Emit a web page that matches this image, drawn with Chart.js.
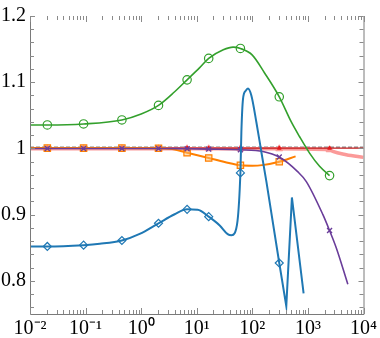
<!DOCTYPE html>
<html>
<head>
<meta charset="utf-8">
<script src="https://cdn.jsdelivr.net/npm/chart.js@4/dist/chart.umd.min.js"></script>
<style>
  html, body { margin: 0; padding: 0; background: #ffffff; }
  #wrap { width: 380px; height: 338px; }
</style>
</head>
<body>
<div id="wrap"><canvas id="c" width="380" height="338"></canvas></div>
<script>
// ---- tick labels ----
const xTickValues = [0.01, 0.1, 1, 10, 100, 1000, 10000];
const xTickLabels = ['10\u207B\u00B2', '10\u207B\u00B9', '10\u2070', '10\u00B9', '10\u00B2', '10\u00B3', '10\u2074'];
const yTickValues = [0.8, 0.9, 1.0, 1.1, 1.2];
const yTickLabels = ['0.8', '0.9', '1', '1.1', '1.2'];

// x positions where markers are drawn
const markX = [0.0205, 0.092, 0.45, 2.05, 6.7, 16.4, 61, 305, 2450];

// ---- series ----
const greenX = [0.01, 0.0205, 0.092, 0.45, 1.0, 2.05, 4.0, 6.7, 11.3, 16.4, 30, 45, 61, 100, 166, 305, 502, 705, 1070, 1620, 2450];
const greenY = [1.0355, 1.0355, 1.037, 1.043, 1.052, 1.065, 1.0856, 1.1036, 1.122, 1.136, 1.149, 1.153, 1.151, 1.141, 1.114, 1.078, 1.040, 1.018, 0.993, 0.973, 0.959];

const blueX = [0.01, 0.0205, 0.092, 0.18, 0.45, 0.94, 2.05, 4.0, 6.7, 10.4, 16.4, 25.9, 36, 42, 48, 61, 63.5, 67.9, 75.9, 83.4, 96, 118, 145, 179, 305, 408, 515, 836];
const blueY = [0.852, 0.852, 0.854, 0.856, 0.861, 0.871, 0.887, 0.9006, 0.908, 0.9076, 0.897, 0.8837, 0.8706, 0.869, 0.872, 0.963, 1.025, 1.0745, 1.087, 1.0906, 1.080, 1.040, 0.995, 0.950, 0.827, 0.762, 0.926, 0.781];
const blueSplit = 22; // index where the curve turns into straight segments

const orangeX = [0.01, 0.0205, 0.092, 0.45, 2.05, 3.3, 6.7, 16.4, 31.8, 61, 100, 150, 305, 600];
const orangeY = [1.0005, 1.0005, 1.0005, 1.0005, 1.0002, 0.9995, 0.9935, 0.9856, 0.9796, 0.9746, 0.974, 0.9748, 0.980, 0.988];

const purpleX = [0.01, 0.0205, 0.092, 0.45, 2.05, 6.7, 16.4, 61, 155, 305, 652, 935, 1860, 2450, 3230, 5220];
const purpleY = [1.0, 1.0, 1.0, 1.0, 1.0, 0.9995, 0.999, 0.998, 0.9955, 0.987, 0.965, 0.95, 0.90, 0.876, 0.850, 0.795];

const pinkX = [0.01, 0.0205, 0.092, 0.45, 2.05, 6.7, 16.4, 61, 305, 2450, 2800, 4890, 10000];
const pinkY = [0.9995, 0.9995, 0.9995, 0.9995, 0.9995, 0.9995, 0.9995, 0.9995, 0.9995, 0.998, 0.9955, 0.9906, 0.9865];

const redX = [0.01, 0.0205, 0.092, 0.45, 2.05, 6.7, 16.4, 61, 305, 2450, 10000];
const redY = [1.0005, 1.0005, 1.0005, 1.0005, 1.0005, 1.0005, 1.0005, 1.0005, 1.0005, 1.0005, 1.0005];

const grayX = [0.01, 10000];
const grayY = [1.002, 1.002];

function pts(xs, ys) { return xs.map((x, i) => ({ x: x, y: ys[i] })); }
function markR(r) {
  return (ctx) => {
    const p = ctx.raw;
    return (p && markX.some(m => Math.abs(m - p.x) / m < 1e-6)) ? r : 0;
  };
}

const frame = {
  id: 'frame',
  afterDraw(chart) {
    const { ctx, chartArea: a, scales } = chart;
    const xs = scales.x, ys = scales.y;
    ctx.save();
    ctx.strokeStyle = '#7a7a7a';
    ctx.lineWidth = 1;
    ctx.beginPath();
    ctx.moveTo(a.left + 0.5, a.top);
    ctx.lineTo(a.left + 0.5, a.bottom + 0.5);
    ctx.lineTo(a.right + 0.5, a.bottom + 0.5);
    ctx.lineTo(a.right + 0.5, a.top);
    ctx.stroke();
    ctx.strokeStyle = '#8a8a8a';
    ctx.beginPath();
    // y ticks (every 0.02), inward on left and right
    for (let k = 38; k <= 60; k++) {
      const v = k / 50;
      const py = Math.round(ys.getPixelForValue(v)) + 0.5;
      const len = (k % 5 === 0) ? 5 : 4;
      ctx.moveTo(a.left, py); ctx.lineTo(a.left + len, py);
      ctx.moveTo(a.right, py); ctx.lineTo(a.right - len, py);
    }
    // x ticks (log), inward on bottom and top
    for (let d = -2; d <= 4; d++) {
      for (let m = 1; m <= 9; m++) {
        if (d === 4 && m > 1) break;
        const v = m * Math.pow(10, d);
        const px = Math.round(xs.getPixelForValue(v)) + 0.5;
        const len = (m === 1) ? 6 : 4;
        ctx.moveTo(px, a.bottom); ctx.lineTo(px, a.bottom - len);
        ctx.moveTo(px, a.top); ctx.lineTo(px, a.top + len);
      }
    }
    ctx.stroke();
    ctx.restore();
  }
};

const serif = { family: "'Liberation Serif', 'Times New Roman', serif", size: 20 };

new Chart(document.getElementById('c'), {
  type: 'line',
  data: {
    datasets: [
      { data: pts(greenX, greenY), borderColor: '#33a02c', borderWidth: 1.6, cubicInterpolationMode: 'monotone',
        pointStyle: 'circle', pointRadius: markR(4.2), pointBorderColor: '#33a02c', pointBackgroundColor: 'rgba(0,0,0,0)', pointBorderWidth: 1.2 },
      { data: pts(blueX.slice(0, blueSplit + 1), blueY.slice(0, blueSplit + 1)), borderColor: '#1f78b4', borderWidth: 2, cubicInterpolationMode: 'monotone',
        pointStyle: 'rectRot', pointRadius: markR(4), pointBorderColor: '#1f78b4', pointBackgroundColor: 'rgba(255,255,255,0)', pointBorderWidth: 1.2 },
      { data: pts(blueX.slice(blueSplit), blueY.slice(blueSplit)), borderColor: '#1f78b4', borderWidth: 2, tension: 0,
        pointStyle: 'rectRot', pointRadius: markR(4), pointBorderColor: '#1f78b4', pointBackgroundColor: 'rgba(255,255,255,0)', pointBorderWidth: 1.2 },
      { data: pts(purpleX, purpleY), borderColor: '#6a3d9a', borderWidth: 1.6, cubicInterpolationMode: 'monotone',
        pointStyle: 'crossRot', pointRadius: markR(3.5), pointBorderColor: '#6a3d9a', pointBorderWidth: 1.4 },
      { data: pts(orangeX, orangeY), borderColor: '#ff7f00', borderWidth: 2, cubicInterpolationMode: 'monotone',
        pointStyle: 'rect', pointRadius: markR(4.5), pointBorderColor: '#ff7f00', pointBackgroundColor: 'rgba(253,191,111,0.5)', pointBorderWidth: 1.2 },
      { data: pts(redX, redY), borderColor: '#c0181a', borderWidth: 1.2, tension: 0,
        pointStyle: 'triangle', pointRadius: markR(2.2), pointBorderColor: '#e31a1c', pointBackgroundColor: '#e31a1c', pointBorderWidth: 1 },
      { data: pts(pinkX, pinkY), borderColor: '#fb9a99', borderWidth: 3.5, cubicInterpolationMode: 'monotone',
        pointStyle: 'triangle', pointRadius: markR(4), pointBorderColor: '#fb9a99', pointBackgroundColor: '#fb9a99', pointBorderWidth: 1 },
      { data: pts(grayX, grayY), borderColor: '#666666', borderWidth: 1, borderDash: [4, 2], tension: 0, pointRadius: 0 }
    ]
  },
  options: {
    responsive: false,
    animation: false,
    devicePixelRatio: 1,
    layout: { padding: { top: 13, right: 16, left: 0, bottom: 0 } },
    plugins: { legend: { display: false }, tooltip: { enabled: false } },
    scales: {
      x: {
        type: 'logarithmic', min: 0.01, max: 10000,
        grid: { display: false, drawTicks: false },
        border: { display: false },
        afterBuildTicks: (s) => { s.ticks = xTickValues.map(v => ({ value: v })); },
        afterFit: (s) => { s.height = 24; },
        ticks: {
          autoSkip: false, maxRotation: 0, padding: 3, color: '#000', font: serif,
          callback: (v) => { const i = xTickValues.findIndex(t => Math.abs(t - v) / t < 1e-6); return i >= 0 ? xTickLabels[i] : ''; }
        }
      },
      y: {
        type: 'linear', min: 0.75, max: 1.2,
        grid: { display: false, drawTicks: false },
        border: { display: false },
        afterBuildTicks: (s) => { s.ticks = yTickValues.map(v => ({ value: v })); },
        afterFit: (s) => { s.width = 30; },
        ticks: {
          autoSkip: false, padding: 4, color: '#000', font: serif,
          callback: (v) => { const i = yTickValues.findIndex(t => Math.abs(t - v) < 1e-6); return i >= 0 ? yTickLabels[i] : ''; }
        }
      }
    }
  },
  plugins: [frame]
});
</script>
</body>
</html>
